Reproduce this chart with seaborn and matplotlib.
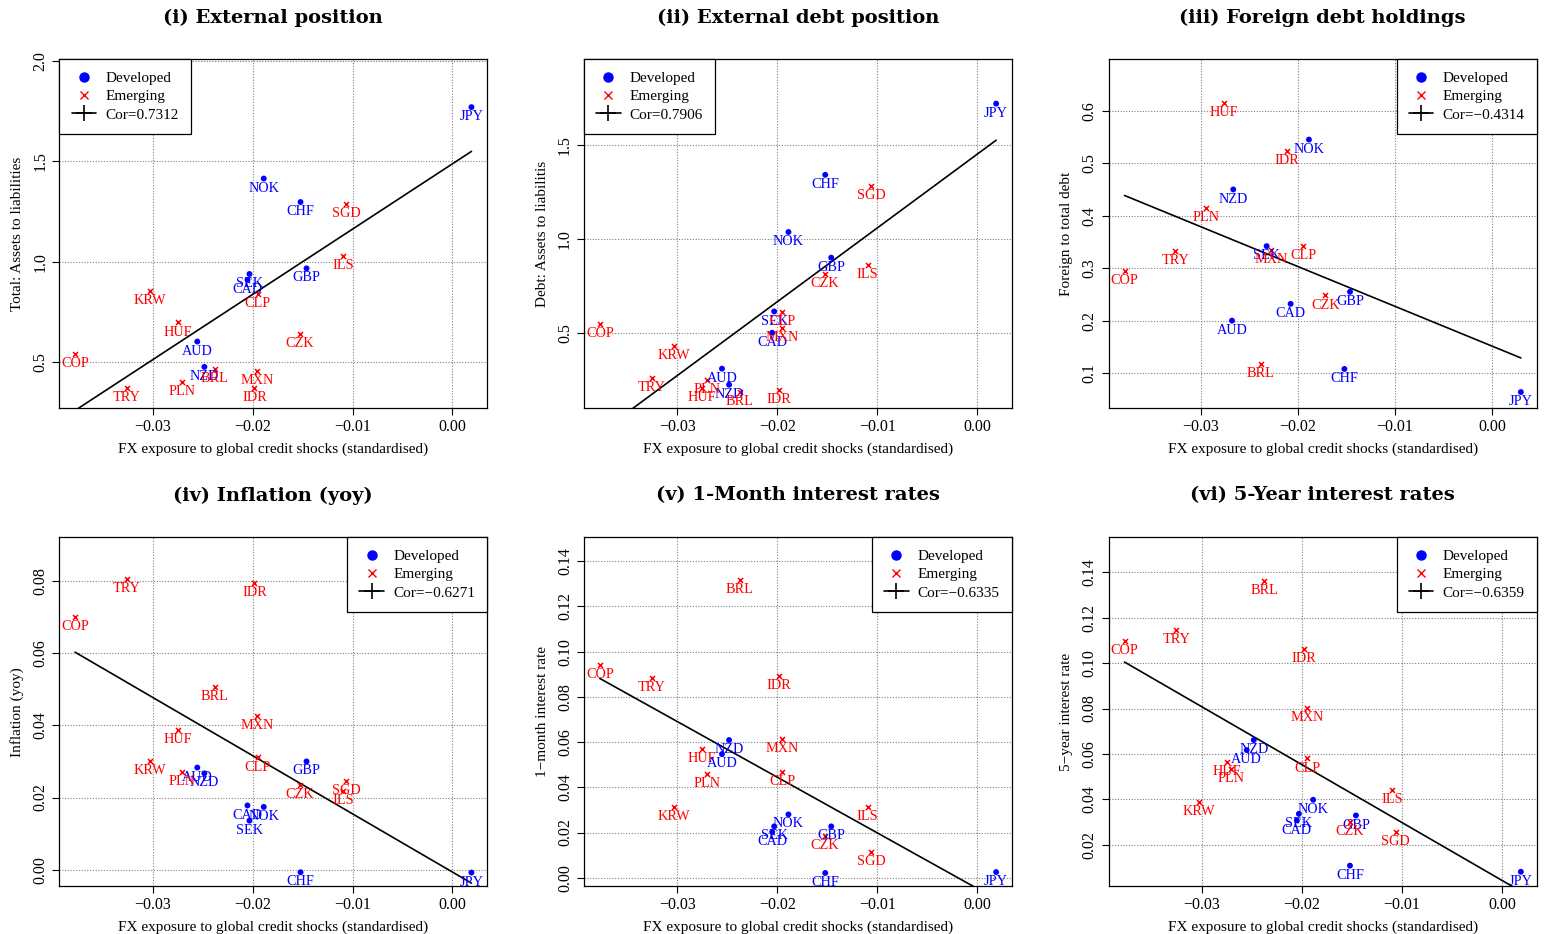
import numpy as np
import pandas as pd
import seaborn as sns
import matplotlib
matplotlib.use("Agg")
import matplotlib.pyplot as plt
from matplotlib.lines import Line2D
from matplotlib.ticker import FuncFormatter, FixedLocator

# currencies shared by panels (i), (ii), (iv), (v), (vi)
currencies = ["JPY", "NOK", "CHF", "SGD", "ILS", "GBP", "SEK", "CAD", "CLP", "KRW",
              "HUF", "AUD", "CZK", "COP", "NZD", "BRL", "MXN", "PLN", "IDR", "TRY"]
developed = ["JPY", "NOK", "CHF", "GBP", "SEK", "CAD", "AUD", "NZD"]

fx_exposure = [0.0019, -0.01888, -0.0152, -0.01062, -0.01096, -0.0146, -0.02031, -0.02051, -0.01948, -0.0303,
               -0.0275, -0.02553, -0.01524, -0.03775, -0.02482, -0.02376, -0.01951, -0.02706, -0.01981, -0.03258]

total_assets = [1.769, 1.414, 1.297, 1.289, 1.028, 0.967, 0.939, 0.910, 0.839, 0.855,
                0.698, 0.603, 0.640, 0.542, 0.477, 0.467, 0.458, 0.400, 0.374, 0.374]
debt_assets = [1.717, 1.037, 1.340, 1.281, 0.862, 0.901, 0.616, 0.503, 0.614, 0.435,
               0.209, 0.313, 0.816, 0.549, 0.228, 0.191, 0.531, 0.253, 0.200, 0.264]
inflation = [-0.0008, 0.0174, -0.0007, 0.0247, 0.0218, 0.0300, 0.0136, 0.0178, 0.0311, 0.0302,
             0.0386, 0.0283, 0.0234, 0.0700, 0.0267, 0.0506, 0.0426, 0.0272, 0.0795, 0.0805]
rate_1m = [0.0025, 0.0280, 0.0021, 0.0113, 0.0312, 0.0227, 0.0227, 0.0202, 0.0467, 0.0315,
           0.0569, 0.0547, 0.0183, 0.0940, 0.0609, 0.1317, 0.0612, 0.0460, 0.0892, 0.0883]
rate_5y = [0.0081, 0.0398, 0.0108, 0.0256, 0.0442, 0.0329, 0.0336, 0.0307, 0.0580, 0.0389,
           0.0564, 0.0617, 0.0301, 0.1096, 0.0661, 0.1360, 0.0803, 0.0533, 0.1063, 0.1146]

# panel (iii) has a smaller sample
foreign_ccy = ["HUF", "NOK", "IDR", "NZD", "PLN", "SEK", "MXN", "CLP", "TRY", "COP",
               "CZK", "GBP", "CAD", "AUD", "BRL", "CHF", "JPY"]
foreign_fx = [-0.02759, -0.01887, -0.02117, -0.02667, -0.02945, -0.02323, -0.02278, -0.01948, -0.03265, -0.03787,
              -0.01718, -0.01464, -0.02076, -0.0268, -0.02385, -0.01522, 0.00296]
foreign_debt = [0.614, 0.545, 0.523, 0.450, 0.415, 0.342, 0.335, 0.343, 0.333, 0.294,
                0.248, 0.255, 0.232, 0.200, 0.118, 0.108, 0.064]

sns.set_style("ticks")
plt.rcParams["font.family"] = ["Liberation Serif", "DejaVu Serif"]
plt.rcParams["axes.unicode_minus"] = True
for k in ["text.color", "axes.labelcolor", "xtick.color", "ytick.color"]:
    plt.rcParams[k] = "black"

XLAB = "FX exposure to global credit shocks (standardised)"


def fmt(dec):
    return FuncFormatter(lambda v, p: f"{v:.{dec}f}".replace("-", "\u2212"))


def panel(ax, x, y, ccy, title, ylabel, cor, ylim, yticks, ydec, loc):
    df = pd.DataFrame({"x": x, "y": y, "ccy": ccy})
    df["dev"] = df["ccy"].isin(developed)
    ax.grid(True, color="#808080", linestyle=(0, (1, 1.5)), linewidth=0.8)
    ax.set_axisbelow(True)
    sns.regplot(data=df, x="x", y="y", scatter=False, ci=None, truncate=True,
                color="black", line_kws={"lw": 1.2}, ax=ax)
    sns.scatterplot(data=df[df.dev], x="x", y="y", color="blue", marker="o",
                    s=18, edgecolor="none", ax=ax, zorder=3)
    sns.scatterplot(data=df[~df.dev], x="x", y="y", color="red", marker="x",
                    s=13, linewidth=1.1, ax=ax, zorder=3)
    for _, r in df.iterrows():
        ax.annotate(r.ccy, (r.x, r.y), xytext=(0, -2.2), textcoords="offset points",
                    ha="center", va="top", fontsize=10.3,
                    color="blue" if r.dev else "red")
    pad = 0.04 * (df.x.max() - df.x.min())
    ax.set_xlim(df.x.min() - pad, df.x.max() + pad)
    ax.set_ylim(*ylim)
    ax.xaxis.set_major_locator(FixedLocator([-0.03, -0.02, -0.01, 0.0]))
    ax.xaxis.set_major_formatter(fmt(2))
    ax.yaxis.set_major_locator(FixedLocator(yticks))
    ax.yaxis.set_major_formatter(fmt(ydec))
    ax.tick_params(direction="out", length=5, width=0.8, color="black",
                   labelsize=11.5, pad=3)
    ax.tick_params(axis="y", labelrotation=90)
    for lab in ax.get_yticklabels():
        lab.set_va("center")
    for s in ax.spines.values():
        s.set_color("black")
        s.set_linewidth(0.9)
    ax.set_xlabel(XLAB, fontsize=11, labelpad=5)
    ax.set_ylabel(ylabel, fontsize=11, labelpad=6)
    ax.text(0.5, 1.12, title, transform=ax.transAxes, ha="center", va="center",
            fontsize=14, family="DejaVu Serif", fontweight="bold")
    handles = [Line2D([], [], marker="o", color="blue", ls="none", markersize=6.5),
               Line2D([], [], marker="x", color="red", ls="none", markersize=6, mew=1),
               Line2D([], [], color="black", lw=1.2, marker="+", markersize=11, mew=1.2)]
    leg = ax.legend(handles, ["Developed", "Emerging", cor], loc=loc, borderaxespad=0,
                    fancybox=False, framealpha=1, edgecolor="black", fontsize=11,
                    handlelength=1.6, handletextpad=0.6, labelspacing=0.3, borderpad=0.8)
    leg.get_frame().set_linewidth(0.9)


fig = plt.figure(figsize=(15.45, 9.34), dpi=100)
W, H = 1545, 934
lefts = [59.3, 584, 1108.7]
tops = [59.3, 537.3]
aw, ah = 428, 349


def axes_at(c, r):
    return fig.add_axes([lefts[c] / W, 1 - (tops[r] + ah) / H, aw / W, ah / H])


panel(axes_at(0, 0), fx_exposure, total_assets, currencies, "(i) External position",
      "Total: Assets to liabilities", "Cor=0.7312", (0.271, 2.007), [0.5, 1.0, 1.5, 2.0], 1, "upper left")
panel(axes_at(1, 0), fx_exposure, debt_assets, currencies, "(ii) External debt position",
      "Debt: Assets to liabilitis", "Cor=0.7906", (0.103, 1.952), [0.5, 1.0, 1.5], 1, "upper left")
panel(axes_at(2, 0), foreign_fx, foreign_debt, foreign_ccy, "(iii) Foreign debt holdings",
      "Foreign to total debt", "Cor=\u22120.4314", (0.033, 0.698), [0.1, 0.2, 0.3, 0.4, 0.5, 0.6], 1, "upper right")
panel(axes_at(0, 1), fx_exposure, inflation, currencies, "(iv) Inflation (yoy)",
      "Inflation (yoy)", "Cor=\u22120.6271", (-0.0046, 0.0921), [0.0, 0.02, 0.04, 0.06, 0.08], 2, "upper right")
panel(axes_at(1, 1), fx_exposure, rate_1m, currencies, "(v) 1-Month interest rates",
      "1\u2212month interest rate", "Cor=\u22120.6335", (-0.0038, 0.1506),
      [0.0, 0.02, 0.04, 0.06, 0.08, 0.10, 0.12, 0.14], 2, "upper right")
panel(axes_at(2, 1), fx_exposure, rate_5y, currencies, "(vi) 5-Year interest rates",
      "5\u2212year interest rate", "Cor=\u22120.6359", (0.0017, 0.1554),
      [0.02, 0.04, 0.06, 0.08, 0.10, 0.12, 0.14], 2, "upper right")

fig.savefig("out.png", dpi=100)
